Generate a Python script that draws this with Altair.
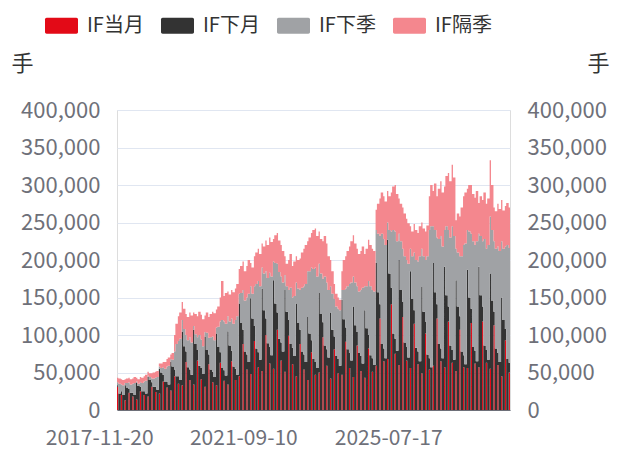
import altair as alt
import pandas as pd

# Stack tops, in thousand lots.
# Two readings per month: month start, then just after expiry.
red_top = [
    31, 0, 20, 0, 13, 0, 23, 0, 18, 0, 14, 0, 25, 0, 20, 0,
    18, 0, 31, 0, 24, 0, 22, 0, 38, 0, 30, 0, 26, 0, 45, 0,
    35, 0, 33, 0, 64, 0, 40, 0, 34, 0, 66, 0, 41, 0, 31, 0,
    61, 0, 37, 0, 33, 0, 63, 0, 39, 0, 34, 0, 65, 0, 40, 0,
    45, 0, 88, 0, 54, 0, 48, 0, 92, 0, 57, 0, 52, 0, 100, 0,
    62, 0, 55, 0, 107, 0, 66, 0, 51, 0, 99, 0, 61, 0, 45, 0,
    88, 0, 54, 0, 40, 0, 77, 0, 47, 0, 50, 0, 97, 0, 59, 0,
    42, 0, 81, 0, 49, 0, 47, 0, 91, 0, 56, 0, 44, 0, 86, 0,
    52, 0, 43, 0, 82, 0, 51, 0, 59, 0, 122, 0, 65, 0, 68, 0,
    141, 0, 75, 0, 60, 0, 124, 0, 66, 0, 56, 0, 115, 0, 61, 0,
    49, 0, 102, 0, 54, 0, 59, 0, 122, 0, 65, 0, 57, 0, 118, 0,
    63, 0, 52, 0, 107, 0, 57, 0, 56, 0, 116, 0, 62, 0, 57, 0,
    118, 0, 63, 0, 55, 0, 113, 0, 60, 0, 45, 0, 93, 0, 50, 0,
]
dark_top = [
    33, 22, 25, 20, 33, 30, 28, 23, 23, 20, 36, 32, 31, 25, 25, 22,
    44, 40, 37, 31, 31, 27, 55, 50, 47, 38, 38, 34, 64, 58, 54, 45,
    45, 40, 104, 85, 78, 57, 54, 47, 107, 88, 80, 59, 56, 48, 98, 80,
    74, 54, 51, 44, 102, 84, 77, 56, 53, 46, 105, 86, 79, 58, 55, 47,
    142, 116, 107, 78, 74, 64, 149, 122, 112, 82, 77, 67, 162, 133, 122, 89,
    84, 73, 173, 142, 130, 95, 90, 78, 160, 131, 120, 88, 83, 72, 142, 116,
    107, 78, 74, 64, 124, 102, 93, 68, 64, 56, 156, 128, 117, 86, 81, 70,
    130, 107, 98, 72, 68, 59, 147, 121, 110, 81, 76, 66, 138, 113, 104, 76,
    72, 62, 133, 109, 100, 73, 69, 60, 196, 157, 141, 88, 82, 69, 227, 182,
    163, 102, 95, 79, 200, 160, 144, 90, 84, 70, 185, 148, 133, 83, 78, 65,
    164, 131, 118, 74, 69, 57, 196, 157, 141, 88, 82, 69, 191, 153, 138, 86,
    80, 67, 173, 138, 125, 78, 73, 61, 187, 150, 135, 84, 79, 65, 191, 153,
    138, 86, 80, 67, 182, 146, 131, 82, 76, 64, 150, 120, 108, 68, 63, 11,
]
grey_top = [
    37, 35, 34, 33, 36, 36, 37, 34, 35, 36, 38, 35, 37, 36, 38, 39,
    46, 44, 42, 42, 43, 44, 58, 56, 57, 55, 58, 59, 68, 67, 78, 88,
    92, 95, 120, 108, 100, 93, 97, 90, 112, 101, 97, 100, 94, 85, 104, 103,
    96, 97, 98, 93, 110, 111, 118, 120, 118, 115, 125, 118, 122, 115, 120, 125,
    155, 156, 160, 146, 150, 155, 165, 155, 165, 168, 172, 165, 190, 182, 185, 176,
    183, 178, 198, 196, 195, 184, 178, 170, 180, 165, 160, 163, 150, 152, 170, 162,
    160, 163, 165, 168, 185, 185, 190, 188, 190, 178, 195, 182, 175, 178, 170, 160,
    165, 155, 148, 138, 135, 133, 160, 160, 162, 165, 168, 170, 178, 170, 165, 158,
    160, 163, 165, 165, 172, 165, 160, 158, 240, 235, 232, 235, 228, 220, 250, 240,
    238, 240, 238, 225, 235, 225, 215, 205, 200, 195, 215, 205, 210, 200, 198, 205,
    215, 205, 200, 205, 240, 245, 245, 240, 230, 228, 232, 218, 240, 245, 240, 230,
    245, 232, 215, 210, 205, 205, 220, 222, 240, 238, 235, 225, 220, 225, 235, 232,
    225, 228, 215, 220, 258, 240, 225, 215, 218, 212, 225, 215, 218, 220, 216, 216,
]
total_top = [
    43, 42, 41, 40, 41, 42, 43, 41, 42, 44, 43, 41, 44, 43, 45, 47,
    51, 49, 49, 50, 51, 52, 62, 62, 64, 64, 68, 70, 74, 76, 100, 115,
    125, 130, 144, 135, 128, 124, 130, 126, 130, 128, 125, 131, 127, 121, 126, 130,
    124, 128, 131, 129, 134, 138, 150, 172, 152, 156, 158, 154, 160, 157, 162, 168,
    188, 192, 198, 185, 192, 200, 196, 190, 205, 210, 215, 208, 222, 218, 226, 220,
    230, 224, 228, 233, 236, 226, 220, 212, 205, 195, 200, 208, 192, 198, 205, 200,
    202, 210, 215, 220, 225, 230, 236, 240, 242, 232, 238, 228, 225, 232, 222, 205,
    200, 185, 168, 155, 150, 147, 185, 200, 205, 212, 218, 225, 233, 222, 215, 208,
    212, 218, 208, 215, 227, 220, 215, 212, 267, 275, 282, 290, 285, 278, 292, 285,
    290, 298, 300, 288, 282, 275, 270, 262, 255, 249, 245, 238, 248, 240, 236, 245,
    250, 242, 238, 246, 285, 300, 292, 302, 285, 295, 305, 290, 298, 312, 316, 305,
    327, 310, 253, 262, 258, 270, 285, 290, 295, 300, 300, 288, 283, 292, 276, 285,
    280, 290, 275, 282, 333, 300, 270, 265, 275, 268, 280, 266, 272, 276, 270, 277,
]

series_names = ["IF当月", "IF下月", "IF下季", "IF隔季"]
series_colors = ["#E30A17", "#333333", "#A0A2A5", "#F4878E"]
x_labels = ["2017-11-20", "2021-09-10", "2025-07-17"]
x_label_pos = [9.5, 47.4, 85.5]
y_ticks = [0, 50000, 100000, 150000, 200000, 250000, 300000, 350000, 400000]

n = len(red_top)
assert n == len(dark_top) == len(grey_top) == len(total_top)
t_vals = [i // 2 + (0.35 if i % 2 else 0.0) for i in range(n)]

rows = []
for i in range(n):
    layers = [
        red_top[i],
        dark_top[i] - red_top[i],
        grey_top[i] - dark_top[i],
        total_top[i] - grey_top[i],
    ]
    for k, v in enumerate(layers):
        rows.append({"t": t_vals[i], "series": series_names[k], "k": k, "value": v * 1000})
df = pd.DataFrame(rows)

font = "Noto Sans CJK SC"
label_color = "#6E7079"
label_expr = (
    f"datum.value < 30 ? '{x_labels[0]}' : "
    f"(datum.value < 70 ? '{x_labels[1]}' : '{x_labels[2]}')"
)
sym = ("M-0.9,-0.48H0.9A0.1,0.1,0,0,1,1,-0.38V0.38A0.1,0.1,0,0,1,0.9,0.48"
       "H-0.9A0.1,0.1,0,0,1,-1,0.38V-0.38A0.1,0.1,0,0,1,-0.9,-0.48Z")

areas = alt.Chart(df).mark_area(interpolate="step-after", opacity=1).encode(
    x=alt.X(
        "t:Q",
        scale=alt.Scale(domain=[0, t_vals[-1]], nice=False, zero=False),
        axis=alt.Axis(
            values=x_label_pos, labelExpr=label_expr, title=None, grid=False,
            ticks=False, labelAlign="right", labelFontSize=21, labelColor=label_color,
            labelFont=font, domain=True, domainColor=label_color, labelPadding=17,
        ),
    ),
    y=alt.Y(
        "value:Q",
        stack="zero",
        scale=alt.Scale(domain=[0, 400000], nice=False),
        axis=alt.Axis(
            values=y_ticks, format=",d", title="手", titleAngle=0, titleX=-95, titleY=-47,
            titleAlign="center", titleBaseline="middle", titleFontSize=22,
            titleFontWeight="normal", titleColor="#333333", titleFont=font,
            labelFontSize=22, labelColor=label_color, labelFont=font, labelPadding=17,
            grid=True, gridColor="#E0E6F1", gridWidth=1.2, domain=False, ticks=False,
        ),
    ),
    color=alt.Color(
        "series:N",
        scale=alt.Scale(domain=series_names, range=series_colors),
        legend=alt.Legend(
            orient="none", legendX=-72, legendY=-101, direction="horizontal", title=None,
            symbolType=sym, symbolSize=1089, symbolStrokeWidth=0, symbolOpacity=1,
            labelFontSize=20, labelFont=font, labelColor="#333333", labelOffset=9,
            columnPadding=17, padding=0,
        ),
    ),
    order=alt.Order("k:Q", sort="ascending"),
)

right = alt.Chart(pd.DataFrame({"v": [0, 400000]})).mark_point(opacity=0).encode(
    y=alt.Y(
        "v:Q",
        scale=alt.Scale(domain=[0, 400000], nice=False),
        axis=alt.Axis(
            orient="right", values=y_ticks, format=",d", title="手", titleAngle=0,
            titleX=88, titleY=-47, titleAlign="center", titleBaseline="middle",
            titleFontSize=22, titleFontWeight="normal", titleColor="#333333", titleFont=font,
            labelFontSize=22, labelColor=label_color, labelFont=font, labelPadding=17,
            grid=False, domain=False, ticks=False,
        ),
    )
)

chart = (
    alt.layer(areas, right)
    .resolve_scale(y="independent")
    .properties(
        width=393, height=300,
        padding={"left": 109, "top": 102, "right": 110, "bottom": 40},
        autosize=alt.AutoSizeParams(type="none"),
    )
    .configure_view(stroke=None)
    .configure(font=font)
)

chart.save("out.html", embed_options={"renderer": "svg", "actions": False})
